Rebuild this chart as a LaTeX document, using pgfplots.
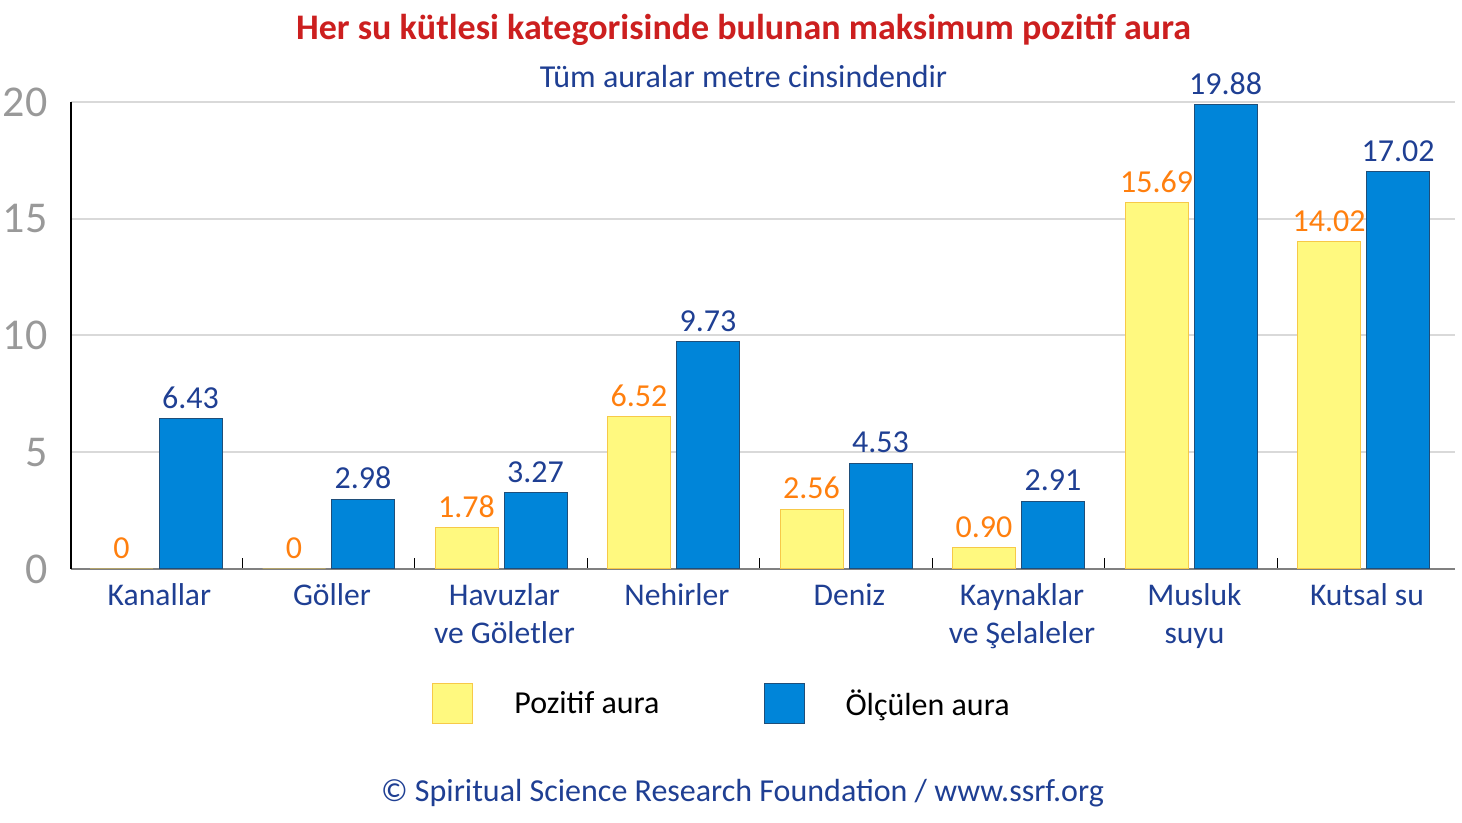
\documentclass[border=0pt]{standalone}
\usepackage{fontspec}
\setmainfont{Carlito}
\usepackage{pgfplots}
\pgfplotsset{compat=1.18}
\definecolor{ybarc}{HTML}{FFF97F}
\definecolor{ybord}{HTML}{F7C948}
\definecolor{bbarc}{HTML}{0085D9}
\definecolor{bbord}{HTML}{1F4E79}
\definecolor{lblor}{HTML}{FF7F0E}
\definecolor{dblue}{HTML}{1F3F93}
\definecolor{ttlred}{HTML}{CC1F1F}
\definecolor{tickgray}{HTML}{999999}
\definecolor{gridgray}{HTML}{D9D9D9}
\begin{document}
\begin{tikzpicture}
\path[use as bounding box] (0,0) rectangle (731pt,411.5pt);
\begin{axis}[
  at={(35.5pt,127pt)}, anchor=south west,
  scale only axis, width=692pt, height=233.5pt,
  xmin=-0.493, xmax=7.53, ymin=0, ymax=20,
  ybar=3pt, bar width=31.5pt,
  axis x line*=bottom, axis y line*=left,
  x axis line style={-, draw=gray, line width=0.8pt},
  y axis line style={-, draw=black, line width=0.8pt},
  ytick={0,5,10,15,20},
  ymajorgrids, grid style={draw=gridgray, line width=1pt},
  /pgf/number format/assume math mode=true,
  yticklabel style={font=\fontsize{22}{22}\selectfont, text=tickgray, inner sep=0pt, anchor=east, xshift=-11.5pt},
  xtick=data,
  xticklabels={Kanallar, Göller, {Havuzlar\\ve Göletler}, Nehirler, Deniz, {Kaynaklar\\ve Şelaleler}, {Musluk\\suyu}, Kutsal su},
  xticklabel style={font=\fontsize{15.8}{19}\selectfont, text=dblue, align=center, inner sep=0pt, anchor=north, yshift=-7pt, xshift=1.7pt},
  minor xtick={0.5,1.5,2.5,3.5,4.5,5.5,6.5},
  tick align=inside,
  major tick length=0pt, minor tick length=5.5pt,
  minor x tick style={draw=black, line width=0.5pt},
  y tick style={draw=none},
  nodes near coords, point meta=explicit symbolic,
  every node near coord/.append style={font=\fontsize{16}{16}\selectfont, yshift=1.5pt},
  legend columns=2,
  legend image code/.code={\draw[#1] (0pt,-10pt) rectangle (20pt,10pt);},
  legend style={at={(0.2565,-0.289)}, anchor=west, draw=none, fill=none,
    font=\fontsize{16}{16}\selectfont, nodes={inner sep=0pt},
    /tikz/every odd column/.append style={column sep=20.5pt},
    /tikz/every even column/.append style={column sep=52pt}},
]
\addplot[fill=ybarc, draw=ybord, line width=0.5pt, every node near coord/.append style={text=lblor}]
  table[x=x, y=y, meta=lbl] {
x y lbl
0 0 0
1 0 0
2 1.78 1.78
3 6.52 6.52
4 2.56 2.56
5 0.90 0.90
6 15.69 15.69
7 14.02 14.02
};
\addplot[fill=bbarc, draw=bbord, line width=0.5pt, every node near coord/.append style={text=dblue}]
  table[x=x, y=y, meta=lbl] {
x y lbl
0 6.43 6.43
1 2.98 2.98
2 3.27 3.27
3 9.73 9.73
4 4.53 4.53
5 2.91 2.91
6 19.88 19.88
7 17.02 17.02
};
\legend{Pozitif aura, Ölçülen aura}
\end{axis}
\node[text=ttlred, font=\bfseries\fontsize{18}{18}\selectfont] at (371.75pt,396.5pt) {Her su kütlesi kategorisinde bulunan maksimum pozitif aura};
\node[text=dblue, font=\fontsize{16}{16}\selectfont] at (371.75pt,373pt) {Tüm auralar metre cinsindendir};
\node[text=dblue, font=\fontsize{16}{16}\selectfont] at (371.25pt,15pt) {© Spiritual Science Research Foundation / www.ssrf.org};
\end{tikzpicture}
\end{document}
